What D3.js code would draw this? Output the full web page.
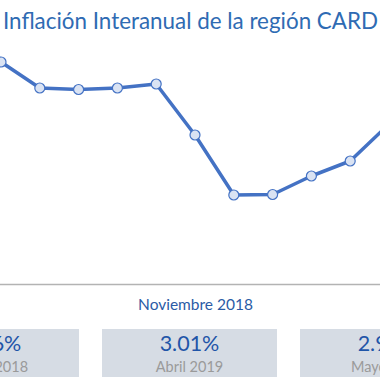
<!DOCTYPE html>
<html>
<head>
<meta charset="utf-8">
<script src="https://cdn.jsdelivr.net/npm/d3@7"></script>
<style>
html,body{margin:0;padding:0;background:#fff;}
svg{display:block;}
</style>
</head>
<body>
<svg id="chart" width="380" height="380"></svg>
<script>
const title = "Inflación Interanual de la región CARD";
const months = ["Mayo 2018","Junio 2018","Julio 2018","Agosto 2018","Septiembre 2018","Octubre 2018","Noviembre 2018","Diciembre 2018","Enero 2019","Febrero 2019","Marzo 2019","Abril 2019","Mayo 2019"];
const values = [3.56, 3.63, 3.37, 3.355, 3.37, 3.41, 2.90, 2.30, 2.305, 2.49, 2.64, 3.01, 2.95];
const tickLabels = ["Noviembre 2018"];
const cardMonths = ["Mayo 2018", "Abril 2019", "Mayo 2019"];
const cardValues = ["3.56%", "3.01%", "2.95%"];

const svg = d3.select("#chart");
const x = d3.scalePoint().domain(months).range([-37.8, 427.8]);
const y = d3.scaleLinear().domain([2, 4]).range([225, 25]);

svg.append("text")
  .attr("x", 3).attr("y", 29)
  .attr("font-family", "Lato, sans-serif")
  .attr("font-size", 22.4)
  .attr("fill", "#2f6bb3")
  .text(title);

// baseline axis
const axis = d3.axisBottom(x).tickValues(tickLabels).tickSize(0).tickPadding(14);
const gAxis = svg.append("g").attr("transform", "translate(0,284.5)").call(axis);
gAxis.select(".domain").remove();
gAxis.append("line").attr("x1", 0).attr("x2", 380).attr("stroke", "#b3b3b3").attr("stroke-width", 1.5);
gAxis.selectAll(".tick text")
  .attr("font-family", "Lato, sans-serif")
  .attr("font-size", 15.5)
  .attr("fill", "#2b5ba6");

const data = months.map((m, i) => ({m, v: values[i]}));
const line = d3.line().x(d => x(d.m)).y(d => y(d.v));
svg.append("path").datum(data)
  .attr("d", line)
  .attr("fill", "none")
  .attr("stroke", "#4472c4")
  .attr("stroke-width", 3.5)
  .attr("stroke-linejoin", "round");

svg.selectAll("circle.pt").data(data).enter().append("circle")
  .attr("class", "pt")
  .attr("cx", d => x(d.m)).attr("cy", d => y(d.v))
  .attr("r", 5)
  .attr("fill", "#dae3f3")
  .attr("stroke", "#4472c4")
  .attr("stroke-width", 1.2);

// cards
const cx = d3.scalePoint().domain(cardMonths).range([-8.5, 387.5]);
const cards = svg.selectAll("g.card").data(cardMonths).enter().append("g")
  .attr("class", "card")
  .attr("transform", d => `translate(${cx(d)},0)`);
cards.append("rect")
  .attr("x", -87.5).attr("y", 329).attr("width", 175).attr("height", 48)
  .attr("fill", "#d6dce4");
cards.append("text")
  .attr("y", 350.5).attr("text-anchor", "middle")
  .attr("font-family", "Lato, sans-serif")
  .attr("font-size", 21.5)
  .attr("fill", "#1f55a8")
  .text((d, i) => cardValues[i]);
cards.append("text")
  .attr("y", 372).attr("text-anchor", "middle")
  .attr("font-family", "Lato, sans-serif")
  .attr("font-size", 14.5)
  .attr("fill", "#9a9a9a")
  .text(d => d);
</script>
</body>
</html>
